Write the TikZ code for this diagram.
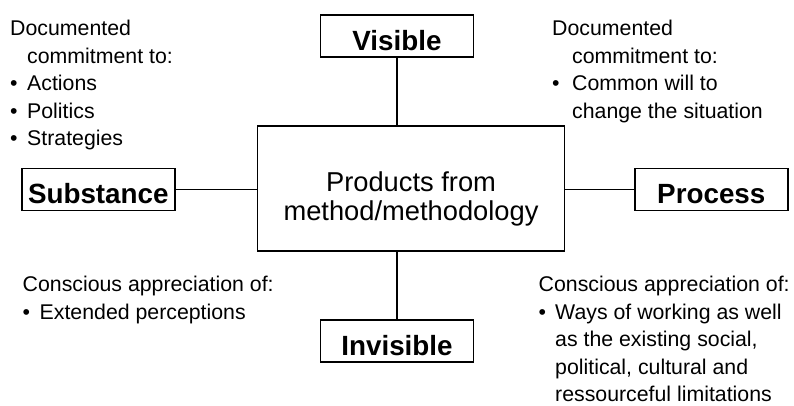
\documentclass[tikz,border=0pt]{standalone}
\usepackage{fontspec}
\setmainfont{Liberation Sans}
\newcommand{\bitem}[1]{\makebox[#1][l]{•}}
\begin{document}
\begin{tikzpicture}[x=1pt,y=-1pt,
  lab/.style={draw, line width=1.8pt, inner sep=0pt, minimum width=153pt,
    text height=35pt, text depth=7pt, font=\fontsize{27.8}{33}\selectfont\bfseries},
  ctrbox/.style={draw, line width=1.8pt, inner sep=0pt, minimum width=307pt,
    text height=65.5pt, text depth=59pt, font=\fontsize{27.3}{29}\selectfont},
  note/.style={anchor=base west, inner sep=0pt, font=\fontsize{21.3}{27.5}\selectfont},
  conn/.style={line width=1.3pt}]
\useasboundingbox (0,0) rectangle (794,405);

\node[ctrbox] (ctr) at (411,188.4)
  {\begin{tabular}[t]{@{}c@{}}Products from\\method/methodology\end{tabular}};
\node[lab] (vis) at (397,36.3) {Visible};
\node[lab] (inv) at (397,341.2) {Invisible};
\node[lab] (sub) at (98.3,189.5) {Substance};
\node[lab] (pro) at (711.3,189.5) {Process};

\draw[conn] (vis.south) -- (vis.south |- ctr.north);
\draw[conn] (inv.north) -- (inv.north |- ctr.south);
\draw[conn] (sub.east) -- (sub.east -| ctr.west);
\draw[conn] (pro.west) -- (pro.west -| ctr.east);

\node[note] (tl) at (10,35.5) {\begin{tabular}[t]{@{}l@{}}Documented\\
  \hspace*{17pt}commitment to:\\
  \bitem{17pt}Actions\\
  \bitem{17pt}Politics\\
  \bitem{17pt}Strategies\end{tabular}};
\node[note] (tr) at (552,35.5) {\begin{tabular}[t]{@{}l@{}}Documented\\
  \hspace*{20pt}commitment to:\\
  \bitem{20pt}Common will to\\
  \hspace*{20pt}change the situation\end{tabular}};
\node[note] (bl) at (22.5,291.7) {\begin{tabular}[t]{@{}l@{}}Conscious appreciation of:\\
  \bitem{17pt}Extended perceptions\end{tabular}};
\node[note] (br) at (538.5,291.7) {\begin{tabular}[t]{@{}l@{}}Conscious appreciation of:\\
  \bitem{16.5pt}Ways of working as well\\
  \hspace*{16.5pt}as the existing social,\\
  \hspace*{16.5pt}political, cultural and\\
  \hspace*{16.5pt}ressourceful limitations\end{tabular}};
\end{tikzpicture}
\end{document}
